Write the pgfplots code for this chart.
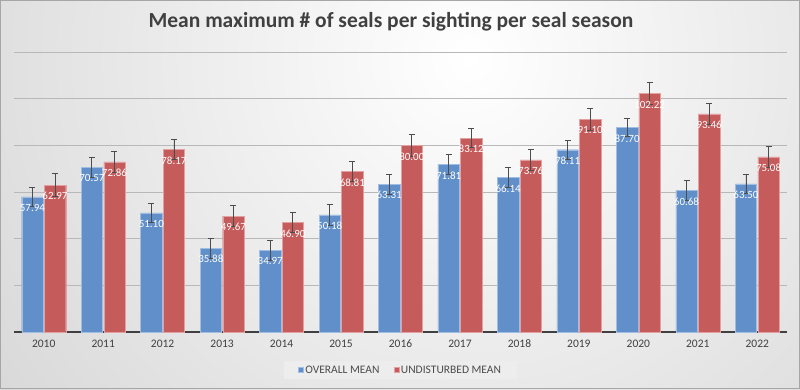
\documentclass[border=0pt]{standalone}
\usepackage{fontspec}
\setmainfont{Carlito}
\usepackage{pgfplots}
\pgfplotsset{compat=1.18}
\definecolor{barblue}{RGB}{97,143,201}
\definecolor{barblueedge}{RGB}{160,190,228}
\definecolor{barred}{RGB}{197,91,90}
\definecolor{barrededge}{RGB}{228,160,160}
\definecolor{txt}{RGB}{64,64,64}
\begin{document}
\begin{tikzpicture}[x=1pt,y=1pt]
\begin{scope}
\clip (0,0) rectangle (800,389);
\shade[inner color=white, outer color=black!30] (470,330) circle (1150);
\end{scope}
\draw[black!35] (0.5,0.5) rectangle (799.5,388.5);
\node[font=\fontsize{21.5pt}{26pt}\selectfont\bfseries, text=txt] at (391,367) {Mean maximum \# of seals per sighting per seal season};
\begin{axis}[
  at={(14pt,57pt)}, anchor=south west,
  width=773pt, height=280pt, scale only axis,
  xmin=-0.5, xmax=12.5, ymin=0, ymax=120,
  xtick={0,...,12},
  xticklabels={2010,2011,2012,2013,2014,2015,2016,2017,2018,2019,2020,2021,2022},
  ytick={20,40,60,80,100,120},
  yticklabels={},
  ymajorgrids, grid style={black!28, line width=0.8pt},
  axis lines*=left,
  y axis line style={draw=none},
  x axis line style={black!75, line width=1.4pt},
  xtick style={draw=none}, ytick style={draw=none},
  xticklabel style={font=\fontsize{11.5pt}{13pt}\selectfont, text=txt},
  /pgf/number format/assume math mode=true,
  ybar, bar width=0.36,
  nodes near coords,
  nodes near coords style={font=\fontsize{11pt}{13pt}\selectfont, text=white, anchor=center, yshift=-11pt, inner sep=0pt,
    /pgf/number format/.cd, fixed, fixed zerofill, precision=2, assume math mode=true},
  legend style={at={(0.5,-0.136)}, anchor=center, fill=black!7, draw=none,
    font=\fontsize{11.5pt}{13pt}\selectfont, text=black!70, inner xsep=14pt, inner ysep=2.5pt,
    /tikz/every even column/.append style={column sep=12pt}},
  legend columns=2,
  legend image code/.code={\fill[#1] (0pt,-2.5pt) rectangle (5pt,2.5pt);},
  error bars/y dir=both, error bars/y explicit,
  error bars/error bar style={black!70, line width=0.8pt},
  error bars/error mark options={rotate=90, mark size=3pt, black!70, line width=0.8pt},
]
\addplot[fill=barblue, draw=barblueedge, bar shift=-0.19] coordinates {
 (0,57.94) +- (0,4.2)
 (1,70.57) +- (0,4.3)
 (2,51.10) +- (0,4.0)
 (3,35.88) +- (0,4.2)
 (4,34.97) +- (0,4.3)
 (5,50.18) +- (0,4.3)
 (6,63.31) +- (0,4.4)
 (7,71.81) +- (0,4.1)
 (8,66.14) +- (0,4.3)
 (9,78.11) +- (0,4.1)
 (10,87.70) +- (0,4.0)
 (11,60.68) +- (0,4.2)
 (12,63.50) +- (0,4.1)
};
\addplot[fill=barred, draw=barrededge, bar shift=0.19] coordinates {
 (0,62.97) +- (0,4.8)
 (1,72.86) +- (0,4.4)
 (2,78.17) +- (0,4.4)
 (3,49.67) +- (0,4.5)
 (4,46.90) +- (0,4.4)
 (5,68.81) +- (0,4.3)
 (6,80.00) +- (0,4.7)
 (7,83.12) +- (0,4.2)
 (8,73.76) +- (0,4.5)
 (9,91.10) +- (0,4.8)
 (10,102.22) +- (0,4.7)
 (11,93.46) +- (0,4.4)
 (12,75.08) +- (0,4.5)
};
\legend{OVERALL MEAN, UNDISTURBED MEAN}
\end{axis}
\end{tikzpicture}
\end{document}
